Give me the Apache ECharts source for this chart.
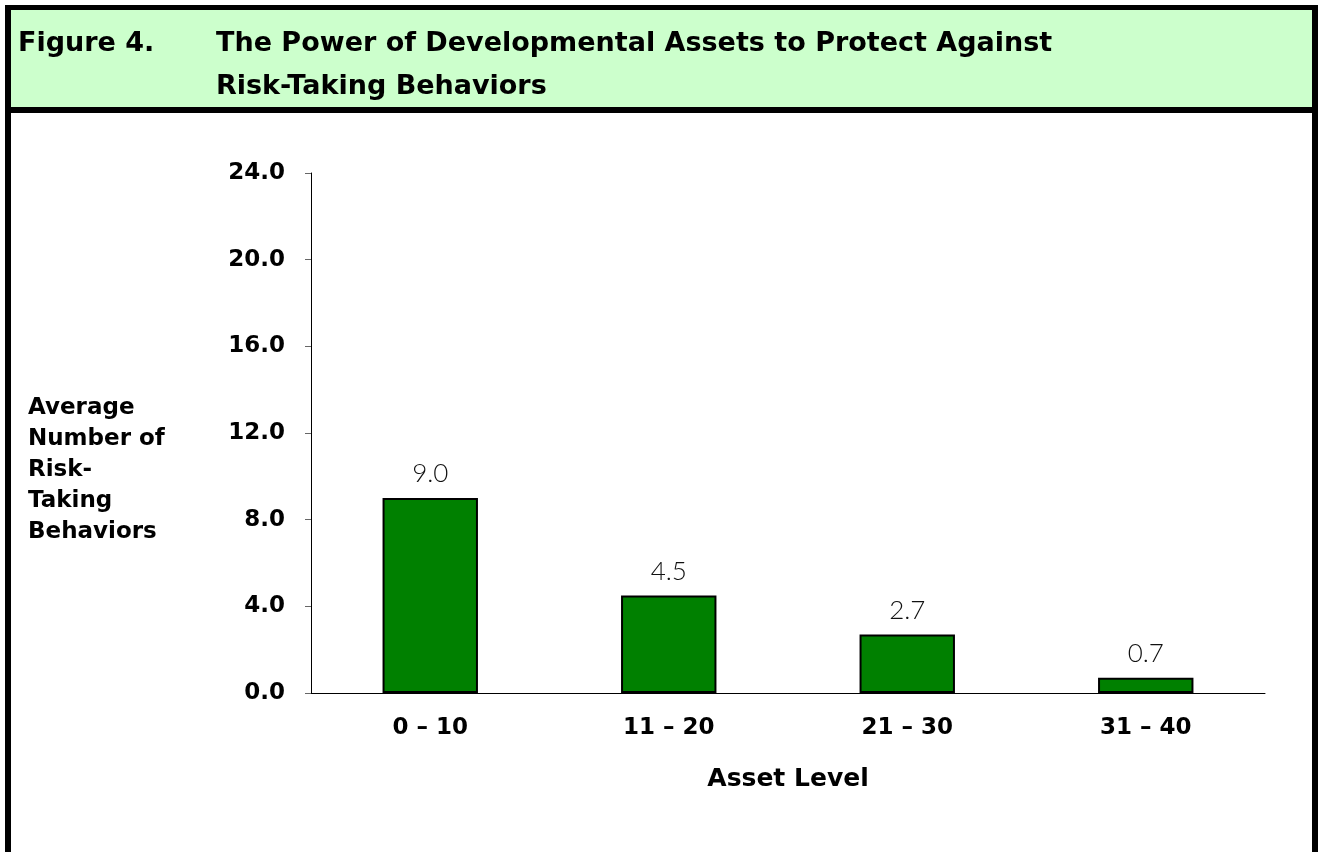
<!DOCTYPE html>
<html>
<head>
<meta charset="utf-8">
<script src="https://cdn.jsdelivr.net/npm/echarts@6/dist/echarts.min.js"></script>
<style>
  html, body { margin: 0; padding: 0; background: #fff; }
  #chart { width: 1318px; height: 852px; }
</style>
</head>
<body>
<div id="chart"></div>
<script>
// values
var assetLevels = ['0 – 10', '11 – 20', '21 – 30', '31 – 40'];
var riskBehaviors = [9.0, 4.5, 2.7, 0.7];
var figureLabel = 'Figure 4.';
var figureTitle = 'The Power of Developmental Assets to Protect Against\nRisk-Taking Behaviors';
var yName = 'Average\nNumber of\nRisk-\nTaking\nBehaviors';
var xName = 'Asset Level';

var BOLD = '"DejaVu Sans"';
var LIGHT = 'Lato';

var myChart = echarts.init(document.getElementById('chart'));

var option = {
  animation: false,
  backgroundColor: '#fff',
  graphic: [
    // outer frame (bottom edge is cut off by the page)
    { type: 'rect', shape: { x: 5, y: 5, width: 1308, height: 5 }, style: { fill: '#000' } },
    { type: 'rect', shape: { x: 5, y: 5, width: 6, height: 847 }, style: { fill: '#000' } },
    { type: 'rect', shape: { x: 1312, y: 5, width: 6, height: 847 }, style: { fill: '#000' } },
    // header band
    { type: 'rect', shape: { x: 11, y: 10, width: 1301, height: 97 }, style: { fill: '#CCFFCC' } },
    { type: 'rect', shape: { x: 5, y: 107, width: 1313, height: 6 }, style: { fill: '#000' } },
    {
      type: 'text', left: 18, top: 22,
      style: { text: figureLabel, fill: '#000', font: 'bold 27px ' + BOLD, lineHeight: 43 }
    },
    {
      type: 'text', left: 216, top: 22,
      style: { text: figureTitle, fill: '#000', font: 'bold 27px ' + BOLD, lineHeight: 43 }
    },
    {
      type: 'text', left: 28, top: 393,
      style: { text: yName, fill: '#000', font: 'bold 23px ' + BOLD, lineHeight: 31 }
    }
  ],
  grid: {
    left: 311,
    right: 53,
    top: 173,
    bottom: 159
  },
  xAxis: {
    type: 'category',
    data: assetLevels,
    name: xName,
    nameLocation: 'middle',
    nameGap: 74,
    nameTextStyle: { fontFamily: BOLD, fontWeight: 'bold', fontSize: 25, color: '#000' },
    axisLine: { lineStyle: { color: '#000', width: 1 } },
    axisTick: { length: 8, lineStyle: { color: '#666' } },
    axisLabel: { fontFamily: BOLD, fontWeight: 'bold', fontSize: 23, color: '#000', margin: 24 }
  },
  yAxis: {
    type: 'value',
    min: 0,
    max: 24,
    interval: 4,
    axisLine: { show: true, lineStyle: { color: '#000', width: 1 } },
    axisTick: { show: true, length: 6, lineStyle: { color: '#666' } },
    splitLine: { show: false },
    axisLabel: {
      fontFamily: BOLD, fontWeight: 'bold', fontSize: 23, color: '#000', margin: 26,
      formatter: function (v) { return v.toFixed(1); }
    }
  },
  series: [{
    type: 'bar',
    data: riskBehaviors,
    barWidth: '40%',
    itemStyle: { color: '#008000', borderColor: '#000', borderWidth: 2 },
    label: {
      show: true,
      position: 'top',
      distance: 11,
      fontFamily: LIGHT,
      fontSize: 26,
      fontWeight: 300,
      color: '#111',
      formatter: function (p) { return p.value.toFixed(1); }
    }
  }]
};

myChart.setOption(option);
</script>
</body>
</html>
